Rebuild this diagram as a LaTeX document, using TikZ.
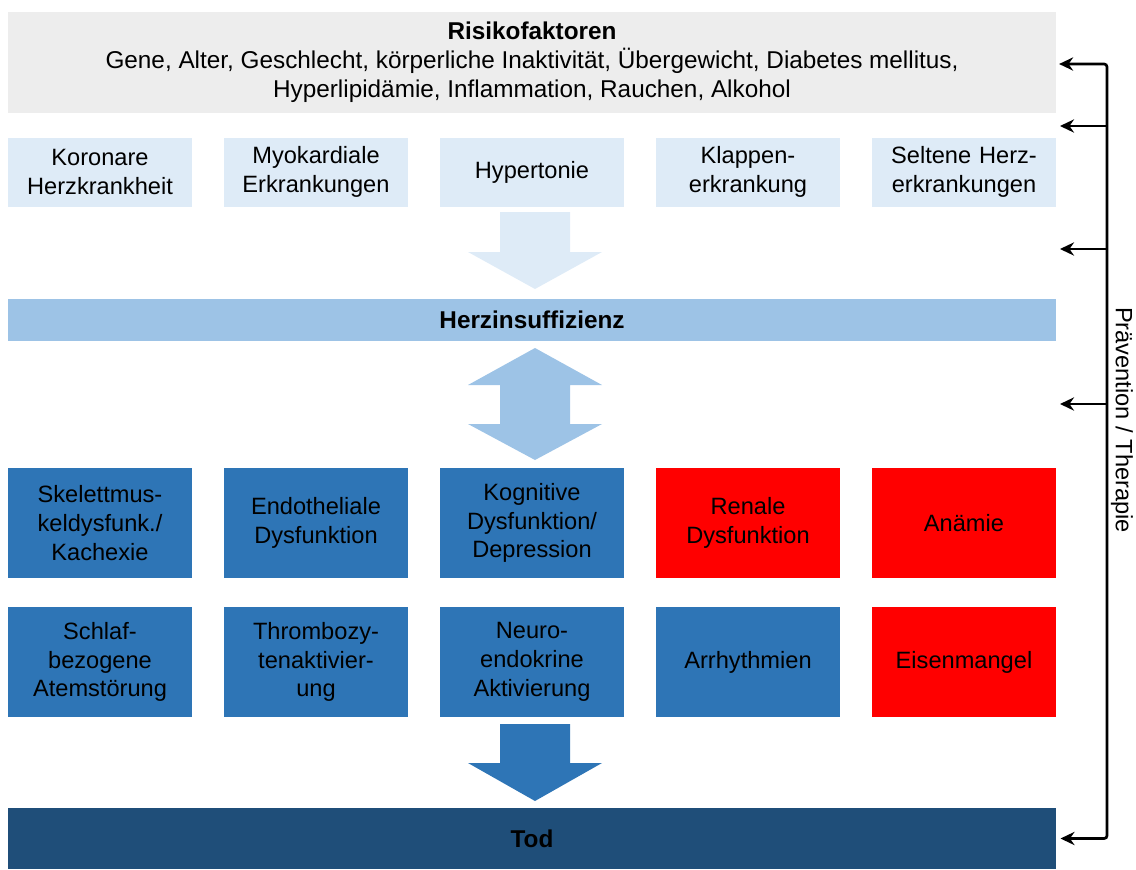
\documentclass[tikz,border=0pt]{standalone}
\usepackage{fontspec}
\setmainfont{Liberation Sans}
\usetikzlibrary{arrows.meta,calc,positioning}
\definecolor{riskgray}{HTML}{EDEDED}
\definecolor{lightblue}{HTML}{DEEBF7}
\definecolor{hfblue}{HTML}{9DC3E6}
\definecolor{midblue}{HTML}{2E75B6}
\definecolor{alarmred}{HTML}{FF0000}
\definecolor{darkblue}{HTML}{1F4E79}
\tikzset{%
	box/.style      = {rectangle, inner sep=0pt, align=center, text width=4.6cm, font=\fontsize{16.8}{20.5}\selectfont},
	lbox/.style     = {box, fill=lightblue, minimum height=1.725cm}, % Ursachen
	bbox/.style     = {box, fill=midblue, minimum height=2.75cm}, % Komorbiditaet
	rbox/.style     = {box, fill=alarmred, minimum height=2.75cm}, % Komorbiditaet (rot)
	bar/.style      = {rectangle, inner sep=0pt, align=center, minimum width=26.2cm, font=\fontsize{17.3}{20.5}\selectfont},
	tip/.tip        = {Stealth[length=3.5mm,width=3.3mm]},
	prev/.style     = {-tip, line width=1.9pt},
}
\begin{document}
\begin{tikzpicture}[node distance = 5.4cm]
	\useasboundingbox (0,0) rectangle (28.4,-21.725);
	% Risikofaktoren und Ursachen
	\node[bar, fill=riskgray, minimum height=2.525cm] (risk) at (13.3,-1.5625) {\textbf{Risikofaktoren}\\Gene, Alter, Geschlecht, körperliche Inaktivität, Übergewicht, Diabetes mellitus,\\Hyperlipidämie, Inflammation, Rauchen, Alkohol};
	\node[lbox] (khk) at (2.5,-4.3) {Koronare\\Herzkrankheit};
	\node[lbox, right of=khk] (myo) {Myokardiale\\Erkrankungen};
	\node[lbox, right of=myo] (hyp) {Hypertonie};
	\node[lbox, right of=hyp] (klap) {Klappen-\\erkrankung};
	\node[lbox, right of=klap] (selt) {Seltene Herz-\\erkrankungen};
	\fill[lightblue] (12.5,-5.3) -- (14.25,-5.3) -- (14.25,-6.3) -- (15.05,-6.3) -- (13.375,-7.225) -- (11.7,-6.3) -- (12.5,-6.3) -- cycle;
	% Herzinsuffizienz
	\node[bar, fill=hfblue, minimum height=1.05cm, font=\fontsize{17.3}{20.5}\selectfont\bfseries] (herz) at (13.3,-8.0) {Herzinsuffizienz};
	\fill[hfblue] (13.375,-8.7) -- (15.05,-9.625) -- (14.25,-9.625) -- (14.25,-10.6) -- (15.05,-10.6) -- (13.375,-11.5) -- (11.7,-10.6) -- (12.5,-10.6) -- (12.5,-9.625) -- (11.7,-9.625) -- cycle;
	% Komorbiditaeten
	\node[bbox] (skel) at (2.5,-13.075) {Skelettmus-\\keldysfunk./\\Kachexie};
	\node[bbox, right of=skel] (endo) {Endotheliale\\Dysfunktion};
	\node[bbox, right of=endo] (kogn) {Kognitive\\Dysfunktion/\\Depression};
	\node[rbox, right of=kogn] (ren) {Renale\\Dysfunktion};
	\node[rbox, right of=ren] (anae) {Anämie};
	\node[bbox] (schlaf) at (2.5,-16.55) {Schlaf-\\bezogene\\Atemstörung};
	\node[bbox, right of=schlaf] (thromb) {Thrombozy-\\tenaktivier-\\ung};
	\node[bbox, right of=thromb] (neuro) {Neuro-\\endokrine\\Aktivierung};
	\node[bbox, right of=neuro] (arr) {Arrhythmien};
	\node[rbox, right of=arr] (eisen) {Eisenmangel};
	\fill[midblue] (12.5,-18.1) -- (14.25,-18.1) -- (14.25,-19.075) -- (15.05,-19.075) -- (13.375,-20.025) -- (11.7,-19.075) -- (12.5,-19.075) -- cycle;
	% Tod
	\node[bar, fill=darkblue, minimum height=1.525cm, font=\fontsize{17.3}{20.5}\selectfont\bfseries] (tod) at (13.3,-20.9625) {Tod};
	% Praevention / Therapie
	\coordinate (btop) at (27.675,-1.6);
	\coordinate (bbot) at (27.675,-20.9625);
	\coordinate (gap1) at (26.5,-3.15);
	\coordinate (gap2) at (26.5,-6.225);
	\coordinate (gap3) at (26.5,-10.1);
	\draw[tip-tip, line width=1.9pt, rounded corners=2pt, shorten <=2pt, shorten >=3pt] (risk.east |- btop) -- (btop) -- (bbot) -- (tod.east);
	\draw[prev] (gap1 -| btop) -- (gap1);
	\draw[prev] (gap2 -| btop) -- (gap2);
	\draw[prev] (gap3 -| btop) -- (gap3);
	\node[rotate=-90, font=\fontsize{16.8}{20.5}\selectfont] (praev) at (28.05,-10.5) {Prävention / Therapie};
\end{tikzpicture}
\end{document}
